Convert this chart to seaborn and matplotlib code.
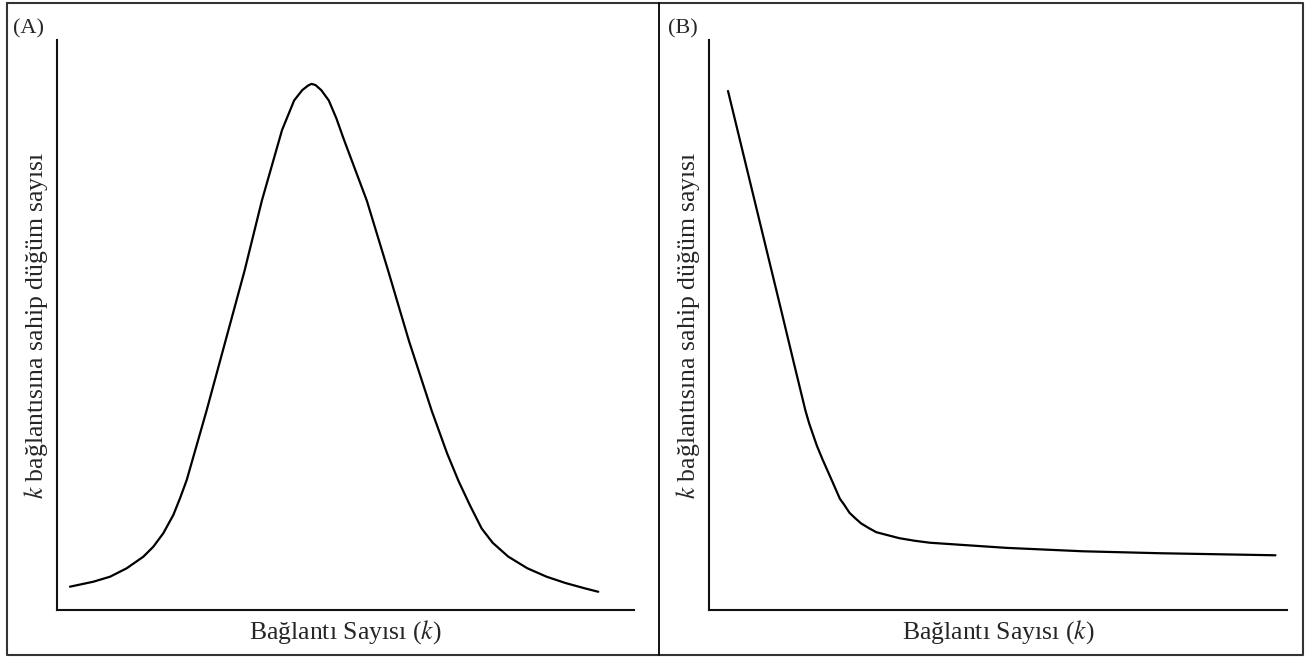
import matplotlib
matplotlib.use("Agg")
import matplotlib.pyplot as plt
from matplotlib.lines import Line2D
import seaborn as sns
import pandas as pd

# Panel A: bell-shaped (random network) degree distribution
a_k = [2.25, 6.29, 9.19, 12.08, 14.96, 16.69, 18.42, 20.16, 21.32, 22.48,
       25.9, 29.2, 32.5, 35.5, 39.0, 41.1, 42.5, 43.5, 44.1, 44.8, 45.8,
       47.1, 48.4, 49.7, 53.7, 57.4, 61.0, 64.96, 67.6, 69.6, 71.6, 73.6,
       75.5, 78.2, 81.5, 84.8, 88.1, 91.4, 93.8]
a_n = [4.09, 4.96, 5.84, 7.32, 9.35, 11.1, 13.46, 16.67, 19.6, 22.8,
       34.9, 47.2, 59.5, 71.8, 84.2, 89.4, 91.2, 92.0, 92.3, 92.1, 91.2,
       89.4, 86.3, 82.6, 71.8, 59.5, 47.2, 34.9, 27.5, 22.6, 18.3, 14.3,
       11.8, 9.37, 7.33, 5.86, 4.74, 3.82, 3.2]

# Panel B: power-law (scale-free network) degree distribution
b_k = [3.29, 7.27, 10.38, 12.51, 14.69, 16.68, 17.34, 18.67, 19.65, 21.31,
       22.65, 23.3, 24.31, 25.3, 26.3, 27.6, 28.94, 30.26, 32.92, 35.57,
       38.22, 51.47, 64.74, 77.99, 98.0]
b_n = [91.05, 74.4, 61.4, 52.5, 43.3, 35.0, 32.7, 28.8, 26.4, 22.6,
       19.5, 18.6, 17.05, 16.1, 15.2, 14.4, 13.65, 13.3, 12.6, 12.15,
       11.8, 10.9, 10.3, 9.96, 9.6]

panel_labels = ["(A)", "(B)"]
xlabel = "Bağlantı Sayısı ($k$)"
ylabel = "$k$ bağlantısına sahip düğüm sayısı"

sns.set_style("white")
plt.rcParams["font.family"] = ["Liberation Serif", "DejaVu Serif"]
plt.rcParams["mathtext.fontset"] = "stix"

W, H = 1309, 658
fig = plt.figure(figsize=(W / 100, H / 100), dpi=100)

axA = fig.add_axes([57 / W, (H - 610) / H, 577 / W, 570 / H])
axB = fig.add_axes([709 / W, (H - 610) / H, 578 / W, 570 / H])

dfA = pd.DataFrame({"k": a_k, "n": a_n})
dfB = pd.DataFrame({"k": b_k, "n": b_n})
sns.lineplot(data=dfA, x="k", y="n", ax=axA, color="black", linewidth=1.6, sort=False)
sns.lineplot(data=dfB, x="k", y="n", ax=axB, color="black", linewidth=1.6, sort=False)

for ax in (axA, axB):
    ax.set_xlim(0, 100)
    ax.set_ylim(0, 100)
    ax.set_xticks([])
    ax.set_yticks([])
    for s in ("top", "right"):
        ax.spines[s].set_visible(False)
    for s in ("left", "bottom"):
        ax.spines[s].set_color("#111111")
        ax.spines[s].set_linewidth(1.5)
    ax.set_xlabel(xlabel, fontsize=18.5, labelpad=6)
    ax.set_ylabel(ylabel, fontsize=18.5, labelpad=5)
    ax.set_facecolor("white")

# panel letters
fig.text(13 / W, 1 - 29 / H, panel_labels[0], fontsize=16, va="center", ha="left")
fig.text(668 / W, 1 - 29 / H, panel_labels[1], fontsize=16, va="center", ha="left")

# outer frame and divider
def fx(p):
    return p / W

def fy(p):
    return 1 - p / H

frame_col = "#333333"
lw = 1.5
fig.add_artist(Line2D([fx(7), fx(1303), fx(1303), fx(7), fx(7)],
                      [fy(2.5), fy(2.5), fy(655), fy(655), fy(2.5)],
                      color=frame_col, linewidth=lw))
fig.add_artist(Line2D([fx(659), fx(659)], [fy(2.5), fy(655)], color="black", linewidth=1.3))

fig.savefig("out.png", dpi=100, facecolor="white")
